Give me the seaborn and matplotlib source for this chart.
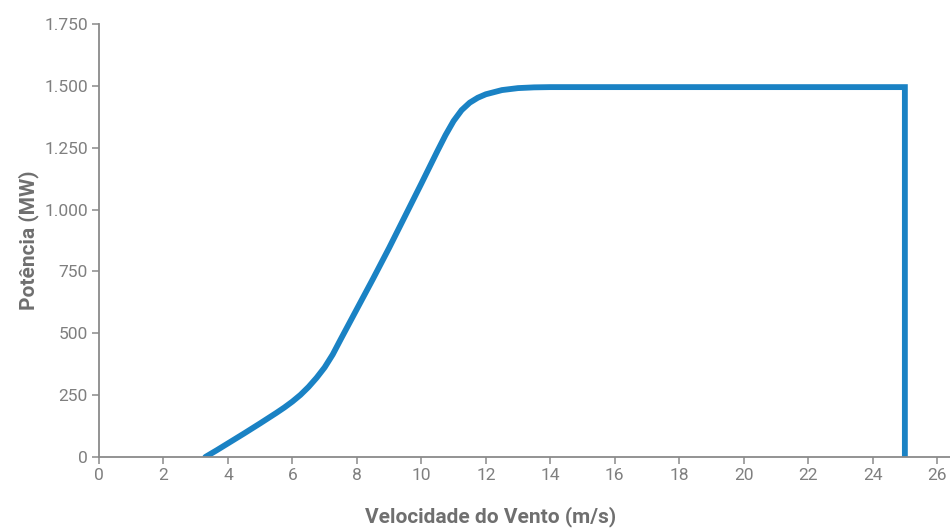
import pandas as pd
import seaborn as sns
import matplotlib.pyplot as plt
from matplotlib.ticker import FuncFormatter, MultipleLocator

sns.set_theme(style="white")
plt.rcParams["font.family"] = ["Roboto", "DejaVu Sans"]

# power curve (m/s -> MW)
speed = [3.3, 3.65, 4.0, 4.5, 5.0, 5.5, 5.75, 6.0, 6.25, 6.5, 6.75, 7.0, 7.25,
         7.5, 8.0, 8.5, 9.0, 9.5, 10.0, 10.5, 10.75, 11.0, 11.25, 11.5, 11.75,
         12.0, 12.5, 13.0, 13.5, 14.0, 25.0, 25.0]
power = [0, 27, 55, 95, 136, 178, 200, 224, 251, 283, 320, 362, 414,
         476, 598, 720, 845, 975, 1105, 1237, 1301, 1358, 1402, 1432, 1452,
         1466, 1483, 1491, 1494, 1495, 1495, 0]

df = pd.DataFrame({"speed": speed, "power": power})

GREY = "#8a8a8a"
TEXT = "#7f7f7f"
BLUE = "#1a82c4"

fig = plt.figure(figsize=(9.5, 5.28), dpi=100)
ax = fig.add_axes([0.1042, 0.1345, 0.8958, 0.82])

# estimator=None keeps both points at 25 m/s (the drop to zero)
sns.lineplot(data=df, x="speed", y="power", sort=False, estimator=None,
             color=BLUE, linewidth=4.2, ax=ax, solid_joinstyle="miter")

ax.set_xlim(0, 26.4)
ax.set_ylim(0, 1750)
ax.set_xticks(range(0, 27, 2))
ax.yaxis.set_major_locator(MultipleLocator(250))
ax.yaxis.set_major_formatter(FuncFormatter(lambda v, p: f"{int(v):,}".replace(",", ".")))

for side in ["top", "right"]:
    ax.spines[side].set_visible(False)
for side in ["left", "bottom"]:
    ax.spines[side].set_color(GREY)
    ax.spines[side].set_linewidth(1.3)

ax.tick_params(axis="both", which="major", direction="out", length=5, width=1.1,
               color=GREY, labelcolor=TEXT, labelsize=12.5, pad=3)
ax.tick_params(axis="x", bottom=True)
ax.tick_params(axis="y", left=True)

ax.set_xlabel("Velocidade do Vento (m/s)", fontsize=15, fontweight="bold",
              color="#6f6f6f")
ax.set_ylabel("Potência (MW)", fontsize=15, fontweight="bold",
              color="#6f6f6f")
ax.xaxis.set_label_coords(0.46, -0.115)
ax.yaxis.set_label_coords(-0.07, 0.5)

fig.savefig("out.png", dpi=100)
